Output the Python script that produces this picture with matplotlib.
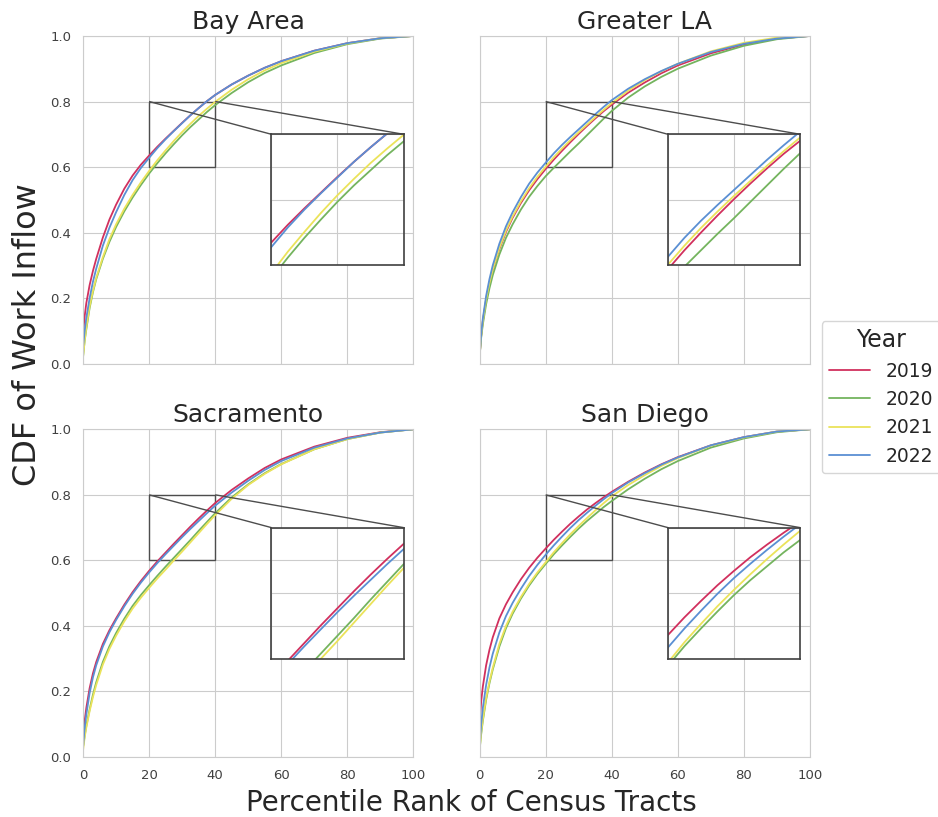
import matplotlib
matplotlib.use("Agg")
import matplotlib.pyplot as plt
import seaborn as sns
from mpl_toolkits.axes_grid1.inset_locator import mark_inset

sns.set_style("whitegrid")
plt.rcParams['font.family'] = ['DejaVu Sans']

# ---- data ----
pct_rank = [0, 0.5, 1, 2, 3, 4, 6, 8, 10, 12.5, 15, 17.5, 20, 22.5, 25, 27.5, 30,
            32.5, 35, 37.5, 40, 45, 50, 55, 60, 70, 80, 90, 100]
years = ['2019', '2020', '2021', '2022']
year_colors = ['#d1305e', '#74b45e', '#ebe35a', '#5a8fd3']
regions = ['Bay Area', 'Greater LA', 'Sacramento', 'San Diego']

# one list per year: 2019, 2020, 2021, 2022
bay_area_cdf = [
    [0.09, 0.145, 0.185, 0.24, 0.283, 0.32, 0.385, 0.44, 0.485, 0.534, 0.574, 0.607, 0.635, 0.662, 0.687,
     0.711, 0.735, 0.758, 0.78, 0.801, 0.82, 0.852, 0.879, 0.903, 0.923, 0.955, 0.978, 0.993, 1.0],
    [0.02, 0.07, 0.105, 0.17, 0.218, 0.258, 0.32, 0.372, 0.417, 0.465, 0.507, 0.545, 0.58, 0.612, 0.642,
     0.67, 0.697, 0.722, 0.745, 0.768, 0.789, 0.826, 0.859, 0.887, 0.91, 0.948, 0.975, 0.992, 1.0],
    [0.02, 0.07, 0.11, 0.175, 0.222, 0.262, 0.325, 0.38, 0.425, 0.473, 0.515, 0.553, 0.588, 0.621, 0.651,
     0.68, 0.707, 0.732, 0.756, 0.778, 0.799, 0.836, 0.868, 0.895, 0.917, 0.952, 0.977, 0.993, 1.0],
    [0.05, 0.1, 0.14, 0.2, 0.25, 0.29, 0.36, 0.415, 0.462, 0.515, 0.56, 0.597, 0.628, 0.658, 0.685,
     0.71, 0.734, 0.758, 0.78, 0.801, 0.82, 0.852, 0.879, 0.903, 0.923, 0.955, 0.978, 0.993, 1.0],
]
greater_la_cdf = [
    [0.02, 0.085, 0.13, 0.195, 0.245, 0.285, 0.35, 0.402, 0.445, 0.49, 0.529, 0.563, 0.594, 0.623, 0.65,
     0.676, 0.701, 0.725, 0.748, 0.77, 0.79, 0.827, 0.858, 0.886, 0.91, 0.947, 0.974, 0.992, 1.0],
    [0.02, 0.08, 0.12, 0.182, 0.23, 0.27, 0.333, 0.384, 0.425, 0.47, 0.509, 0.542, 0.572, 0.598, 0.623,
     0.648, 0.672, 0.697, 0.722, 0.747, 0.771, 0.812, 0.846, 0.875, 0.9, 0.94, 0.97, 0.99, 1.0],
    [0.02, 0.085, 0.13, 0.197, 0.247, 0.288, 0.353, 0.406, 0.449, 0.495, 0.535, 0.57, 0.601, 0.63, 0.657,
     0.682, 0.706, 0.729, 0.752, 0.774, 0.795, 0.833, 0.865, 0.892, 0.915, 0.953, 0.979, 0.995, 1.0],
    [0.02, 0.09, 0.138, 0.207, 0.258, 0.3, 0.366, 0.419, 0.462, 0.508, 0.549, 0.583, 0.613, 0.642, 0.668,
     0.692, 0.715, 0.738, 0.761, 0.783, 0.804, 0.839, 0.868, 0.893, 0.915, 0.951, 0.976, 0.992, 1.0],
]
sacramento_cdf = [
    [0.05, 0.11, 0.15, 0.21, 0.255, 0.29, 0.345, 0.387, 0.423, 0.465, 0.503, 0.537, 0.568, 0.597, 0.624,
     0.651, 0.677, 0.703, 0.728, 0.752, 0.775, 0.815, 0.85, 0.882, 0.908, 0.947, 0.974, 0.991, 1.0],
    [0.03, 0.065, 0.095, 0.145, 0.19, 0.228, 0.29, 0.338, 0.378, 0.422, 0.461, 0.494, 0.524, 0.553, 0.581,
     0.608, 0.635, 0.662, 0.69, 0.717, 0.744, 0.792, 0.832, 0.866, 0.894, 0.939, 0.97, 0.99, 1.0],
    [0.02, 0.06, 0.09, 0.14, 0.183, 0.22, 0.282, 0.33, 0.37, 0.414, 0.453, 0.486, 0.516, 0.545, 0.572,
     0.6, 0.627, 0.655, 0.683, 0.711, 0.738, 0.788, 0.83, 0.864, 0.893, 0.939, 0.97, 0.99, 1.0],
    [0.03, 0.09, 0.13, 0.195, 0.243, 0.28, 0.337, 0.381, 0.418, 0.46, 0.498, 0.532, 0.563, 0.592, 0.619,
     0.645, 0.671, 0.696, 0.72, 0.744, 0.767, 0.807, 0.843, 0.876, 0.903, 0.944, 0.972, 0.99, 1.0],
]
san_diego_cdf = [
    [0.1, 0.17, 0.215, 0.28, 0.327, 0.365, 0.423, 0.466, 0.502, 0.542, 0.577, 0.608, 0.636, 0.663, 0.688,
     0.712, 0.734, 0.755, 0.774, 0.792, 0.809, 0.84, 0.868, 0.893, 0.915, 0.951, 0.976, 0.993, 1.0],
    [0.02, 0.07, 0.11, 0.175, 0.225, 0.267, 0.337, 0.393, 0.437, 0.483, 0.523, 0.558, 0.589, 0.619, 0.646,
     0.672, 0.697, 0.72, 0.741, 0.762, 0.781, 0.817, 0.849, 0.878, 0.903, 0.944, 0.972, 0.991, 1.0],
    [0.02, 0.075, 0.115, 0.18, 0.23, 0.272, 0.345, 0.4, 0.443, 0.488, 0.528, 0.563, 0.594, 0.625, 0.653,
     0.68, 0.705, 0.729, 0.752, 0.774, 0.795, 0.83, 0.86, 0.888, 0.912, 0.95, 0.975, 0.993, 1.0],
    [0.03, 0.1, 0.15, 0.22, 0.273, 0.315, 0.38, 0.43, 0.47, 0.513, 0.552, 0.586, 0.617, 0.646, 0.673,
     0.699, 0.723, 0.745, 0.766, 0.786, 0.805, 0.838, 0.866, 0.892, 0.914, 0.951, 0.976, 0.993, 1.0],
]
all_cdfs = [bay_area_cdf, greater_la_cdf, sacramento_cdf, san_diego_cdf]

fig, axs = plt.subplots(2, 2, figsize=(9.38, 8.17), dpi=100, sharex=True, sharey=True)
fig.subplots_adjust(left=0.0885, right=0.8635, bottom=0.0734, top=0.956, wspace=0.2, hspace=0.2)

for ax, name, curves in zip(axs.flat, regions, all_cdfs):
    for yr, col, cdf in zip(years, year_colors, curves):
        ax.plot(pct_rank, cdf, color=col, lw=1.3, label=yr)
    ax.set_xlim(0, 100)
    ax.set_ylim(0, 1)
    ax.set_title(name, fontsize=18, pad=5, color='.15')
    ax.tick_params(labelsize=9.5, colors='.25', pad=5)

    # zoomed inset of the 20-40 / 0.6-0.8 window
    axins = ax.inset_axes([0.57, 0.3, 0.4, 0.4])
    for col, cdf in zip(year_colors, curves):
        axins.plot(pct_rank, cdf, color=col, lw=1.3)
    axins.set_xlim(20, 40)
    axins.set_ylim(0.6, 0.8)
    axins.set_xticks([20, 30, 40])
    axins.set_yticks([0.6, 0.65, 0.7, 0.75, 0.8])
    axins.tick_params(labelleft=False, labelbottom=False, length=0)
    for sp in axins.spines.values():
        sp.set_edgecolor('.25')
        sp.set_linewidth(1.2)
    mark_inset(ax, axins, loc1=2, loc2=1, fc='none', ec='.3', lw=1)

handles, labels = axs[0, 0].get_legend_handles_labels()
fig.legend(handles, labels, title='Year', loc='center left', bbox_to_anchor=(0.866, 0.514),
           fontsize=13.5, title_fontsize=17, handlelength=2.2, frameon=True, edgecolor='.8')

fig.text(0.503, 0.017, 'Percentile Rank of Census Tracts', ha='center', va='center',
         fontsize=20, color='.15')
fig.text(0.029, 0.591, 'CDF of Work Inflow', ha='center', va='center', rotation=90,
         fontsize=23, color='.15')

fig.savefig('out.png', dpi=100)
